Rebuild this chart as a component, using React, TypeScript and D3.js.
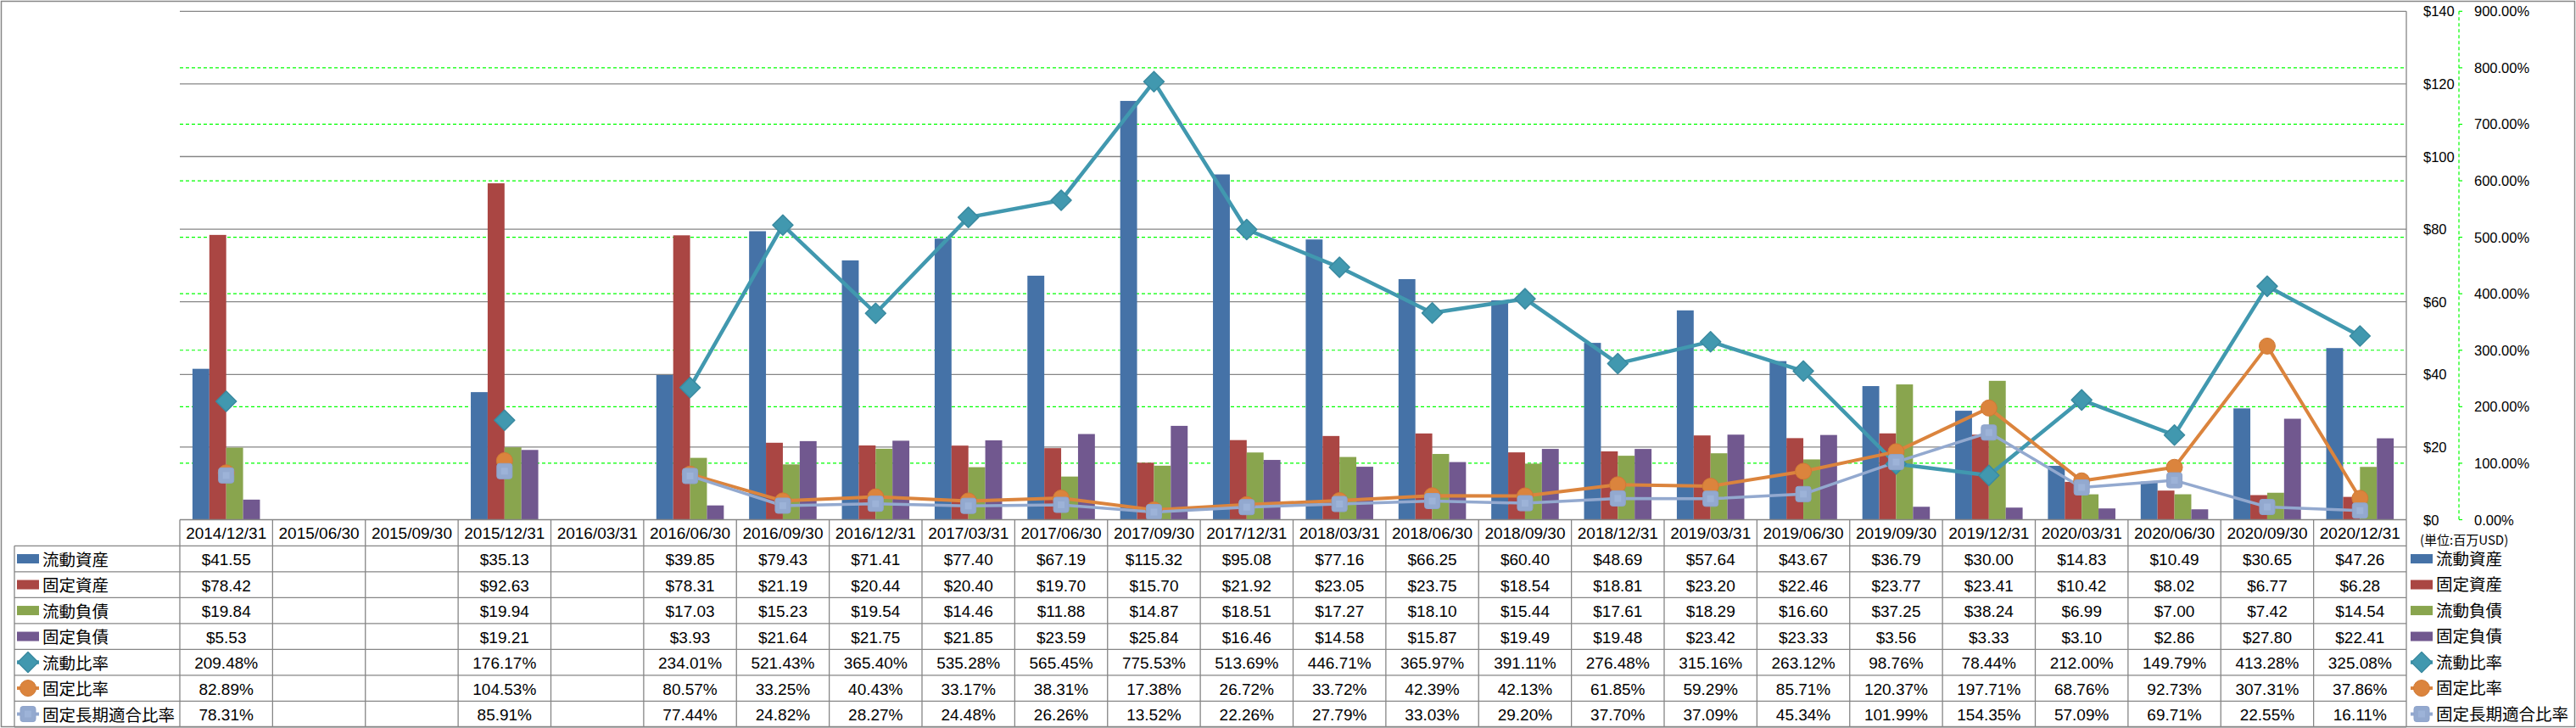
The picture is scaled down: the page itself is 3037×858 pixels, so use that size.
import React from "react";
import * as d3 from "d3";

const categories = [
  "2014/12/31", "2015/06/30", "2015/09/30", "2015/12/31", "2016/03/31", "2016/06/30",
  "2016/09/30", "2016/12/31", "2017/03/31", "2017/06/30", "2017/09/30", "2017/12/31",
  "2018/03/31", "2018/06/30", "2018/09/30", "2018/12/31", "2019/03/31", "2019/06/30",
  "2019/09/30", "2019/12/31", "2020/03/31", "2020/06/30", "2020/09/30", "2020/12/31",
];

const currentAssets = [41.55, null, null, 35.13, null, 39.85, 79.43, 71.41, 77.40, 67.19, 115.32, 95.08, 77.16, 66.25, 60.40, 48.69, 57.64, 43.67, 36.79, 30.00, 14.83, 10.49, 30.65, 47.26];
const fixedAssets = [78.42, null, null, 92.63, null, 78.31, 21.19, 20.44, 20.40, 19.70, 15.70, 21.92, 23.05, 23.75, 18.54, 18.81, 23.20, 22.46, 23.77, 23.41, 10.42, 8.02, 6.77, 6.28];
const currentLiabilities = [19.84, null, null, 19.94, null, 17.03, 15.23, 19.54, 14.46, 11.88, 14.87, 18.51, 17.27, 18.10, 15.44, 17.61, 18.29, 16.60, 37.25, 38.24, 6.99, 7.00, 7.42, 14.54];
const fixedLiabilities = [5.53, null, null, 19.21, null, 3.93, 21.64, 21.75, 21.85, 23.59, 25.84, 16.46, 14.58, 15.87, 19.49, 19.48, 23.42, 23.33, 3.56, 3.33, 3.10, 2.86, 27.80, 22.41];
const currentRatio = [209.48, null, null, 176.17, null, 234.01, 521.43, 365.40, 535.28, 565.45, 775.53, 513.69, 446.71, 365.97, 391.11, 276.48, 315.16, 263.12, 98.76, 78.44, 212.00, 149.79, 413.28, 325.08];
const fixedRatio = [82.89, null, null, 104.53, null, 80.57, 33.25, 40.43, 33.17, 38.31, 17.38, 26.72, 33.72, 42.39, 42.13, 61.85, 59.29, 85.71, 120.37, 197.71, 68.76, 92.73, 307.31, 37.86];
const fixedLongTermRatio = [78.31, null, null, 85.91, null, 77.44, 24.82, 28.27, 24.48, 26.26, 13.52, 22.26, 27.79, 33.03, 29.20, 37.70, 37.09, 45.34, 101.99, 154.35, 57.09, 69.71, 22.55, 16.11];

const dollarTicks = [0, 20, 40, 60, 80, 100, 120, 140];
const percentTicks = [0, 100, 200, 300, 400, 500, 600, 700, 800, 900];
const unitLabel = "(単位:百万USD)";

type Series = { name: string; values: (number | null)[]; color: string; kind: "bar" | "line"; marker?: "diamond" | "circle" | "square" };

const barSeries: Series[] = [
  { name: "流動資産", values: currentAssets, color: "#4572A7", kind: "bar" },
  { name: "固定資産", values: fixedAssets, color: "#AA4643", kind: "bar" },
  { name: "流動負債", values: currentLiabilities, color: "#89A54E", kind: "bar" },
  { name: "固定負債", values: fixedLiabilities, color: "#71588F", kind: "bar" },
];
const lineSeries: Series[] = [
  { name: "流動比率", values: currentRatio, color: "#4198AF", kind: "line", marker: "diamond" },
  { name: "固定比率", values: fixedRatio, color: "#DB843D", kind: "line", marker: "circle" },
  { name: "固定長期適合比率", values: fixedLongTermRatio, color: "#93A9CF", kind: "line", marker: "square" },
];
const allSeries = [...barSeries, ...lineSeries];

const W = 3037;
const H = 858;
const PL = 212;
const PR = 2837;
const PT = 13.3;
const PB = 612.5;
const ROW_H = 30.5;
const HEADER_BOTTOM = 643.3;
const TABLE_LEFT = 17;
const GRID = "#868686";
const FONT = "'Liberation Sans', Arial, 'Noto Sans CJK JP', sans-serif";

function Marker({ type, x, y, color }: { type?: string; x: number; y: number; color: string }) {
  if (type === "diamond") {
    const r = 12;
    return (
      <path
        d={`M${x},${y - r}L${x + r},${y}L${x},${y + r}L${x - r},${y}Z`}
        fill={color}
        stroke="#3a8aa0"
        strokeWidth={1.5}
        strokeLinejoin="round"
      />
    );
  }
  if (type === "circle") {
    return <circle cx={x} cy={y} r={9.5} fill={color} stroke="#d07a35" strokeWidth={1} />;
  }
  return (
    <g>
      <rect x={x - 9} y={y - 9} width={18} height={18} rx={3} fill={color} stroke="#8ea3cb" strokeWidth={1} />
      <rect x={x - 4} y={y - 4} width={8} height={8} fill="#9db3d8" />
    </g>
  );
}

function LegendKey({ s, x, y }: { s: Series; x: number; y: number }) {
  if (s.kind === "bar") {
    return <rect x={x} y={y - 5.5} width={26} height={11} fill={s.color} />;
  }
  const sw = s.marker === "diamond" ? 4.5 : 4;
  return (
    <g>
      <line x1={x} x2={x + 26} y1={y} y2={y} stroke={s.color} strokeWidth={sw} />
      <Marker type={s.marker} x={x + 13} y={y} color={s.color} />
    </g>
  );
}

export default function App() {
  const x = d3.scaleBand<string>().domain(categories).range([PL, PR]).paddingInner(0).paddingOuter(0);
  const bw = x.bandwidth();
  const sub = d3.scaleBand<string>().domain(barSeries.map((s) => s.name)).range([0, bw]).paddingInner(0).paddingOuter(0.75);
  const yD = d3.scaleLinear().domain([0, 140]).range([PB, PT]);
  const yP = d3.scaleLinear().domain([0, 900]).range([PB, PT]);

  const lineGen = d3
    .line<number | null>()
    .defined((d) => d != null)
    .x((_, i) => (x(categories[i]) as number) + bw / 2)
    .y((d) => yP(d as number));

  const rowY = (r: number) => HEADER_BOTTOM + r * ROW_H;
  const fmt = (s: Series, v: number | null) =>
    v == null ? "" : s.kind === "bar" ? `$${v.toFixed(2)}` : `${v.toFixed(2)}%`;

  const axisX = 2899;

  return (
    <svg
      width={W}
      height={H}
      viewBox={`0 0 ${W} ${H}`}
      style={{ position: "absolute", left: 0, top: 0, background: "#fff", fontFamily: FONT }}
    >
      <rect x={0} y={0} width={W} height={H} fill="#fff" />
      <rect x={1.5} y={1.5} width={W - 3} height={H - 3} fill="none" stroke={GRID} strokeWidth={1.5} />

      {/* secondary gridlines (percent) */}
      {percentTicks.slice(1, -1).map((t) => (
        <line key={"pg" + t} x1={PL} x2={PR} y1={yP(t)} y2={yP(t)} stroke="#00FF00" strokeWidth={1.2} strokeDasharray="4,3" />
      ))}
      {/* primary gridlines (dollars) */}
      {dollarTicks.slice(1).map((t) => (
        <line key={"dg" + t} x1={PL} x2={PR} y1={yD(t)} y2={yD(t)} stroke={GRID} strokeWidth={1.3} />
      ))}
      <line x1={PR} x2={PR} y1={PT} y2={PB} stroke={GRID} strokeWidth={1.3} />

      {/* bars */}
      {barSeries.map((s) => (
        <g key={s.name}>
          {s.values.map((v, i) =>
            v == null ? null : (
              <rect
                key={i}
                x={(x(categories[i]) as number) + (sub(s.name) as number)}
                y={yD(v)}
                width={sub.bandwidth()}
                height={PB - yD(v)}
                fill={s.color}
              />
            )
          )}
        </g>
      ))}

      {/* lines */}
      {lineSeries.map((s) => (
        <g key={s.name}>
          <path
            d={lineGen(s.values) || ""}
            fill="none"
            stroke={s.color}
            strokeWidth={s.marker === "diamond" ? 4.5 : s.marker === "circle" ? 4 : 3.5}
            strokeLinejoin="round"
          />
        </g>
      ))}
      {lineSeries.map((s) => (
        <g key={s.name + "m"}>
          {s.values.map((v, i) =>
            v == null ? null : (
              <Marker key={i} type={s.marker} x={(x(categories[i]) as number) + bw / 2} y={yP(v)} color={s.color} />
            )
          )}
        </g>
      ))}

      {/* right axes */}
      <line x1={axisX} x2={axisX} y1={PT} y2={PB} stroke="#00FF00" strokeWidth={1.2} strokeDasharray="4,3" />
      {percentTicks.map((t) => (
        <line key={"pt" + t} x1={axisX} x2={axisX + 4} y1={yP(t)} y2={yP(t)} stroke="#00FF00" strokeWidth={1.2} />
      ))}
      {dollarTicks.map((t) => (
        <text key={"dl" + t} x={2857} y={yD(t)} dominantBaseline="central" fontSize={16.5} fill="#000">
          {`$${t}`}
        </text>
      ))}
      {percentTicks.map((t) => (
        <text key={"pl" + t} x={2917} y={yP(t)} dominantBaseline="central" fontSize={16.5} fill="#000">
          {`${t.toFixed(2)}%`}
        </text>
      ))}
      <text x={2853} y={635} dominantBaseline="central" fontSize={15} fontFamily="'Noto Sans CJK JP', sans-serif" fill="#000">
        {unitLabel}
      </text>

      {/* data table */}
      <g>
        {/* header top / axis line */}
        <line x1={PL} x2={PR} y1={PB} y2={PB} stroke={GRID} strokeWidth={1.3} />
        {d3.range(0, allSeries.length + 1).map((r) => (
          <line key={"hr" + r} x1={TABLE_LEFT} x2={PR} y1={rowY(r)} y2={rowY(r)} stroke={GRID} strokeWidth={1.3} />
        ))}
        <line x1={TABLE_LEFT} x2={TABLE_LEFT} y1={HEADER_BOTTOM} y2={rowY(allSeries.length)} stroke={GRID} strokeWidth={1.3} />
        {d3.range(0, categories.length + 1).map((i) => {
          const xx = PL + i * bw;
          return <line key={"vc" + i} x1={xx} x2={xx} y1={PB} y2={rowY(allSeries.length)} stroke={GRID} strokeWidth={1.3} />;
        })}
        {categories.map((c) => (
          <text
            key={"h" + c}
            x={(x(c) as number) + bw / 2}
            y={(PB + HEADER_BOTTOM) / 2 + 1}
            textAnchor="middle"
            dominantBaseline="central"
            fontSize={19}
            fill="#000"
          >
            {c}
          </text>
        ))}
        {allSeries.map((s, r) => {
          const cy = rowY(r) + ROW_H / 2;
          return (
            <g key={"row" + s.name}>
              <LegendKey s={s} x={20} y={cy} />
              <text x={50} y={cy + 1} dominantBaseline="central" fontSize={19.5} fill="#000">
                {s.name}
              </text>
              {s.values.map((v, i) => (
                <text
                  key={i}
                  x={(x(categories[i]) as number) + bw / 2}
                  y={cy + 1}
                  textAnchor="middle"
                  dominantBaseline="central"
                  fontSize={19}
                  fill="#000"
                >
                  {fmt(s, v)}
                </text>
              ))}
            </g>
          );
        })}
      </g>

      {/* right legend */}
      {allSeries.map((s, r) => {
        const cy = rowY(r) + ROW_H / 2;
        return (
          <g key={"lg" + s.name}>
            <LegendKey s={s} x={2842} y={cy} />
            <text x={2872} y={cy} dominantBaseline="central" fontSize={19.5} fill="#000">
              {s.name}
            </text>
          </g>
        );
      })}
    </svg>
  );
}
